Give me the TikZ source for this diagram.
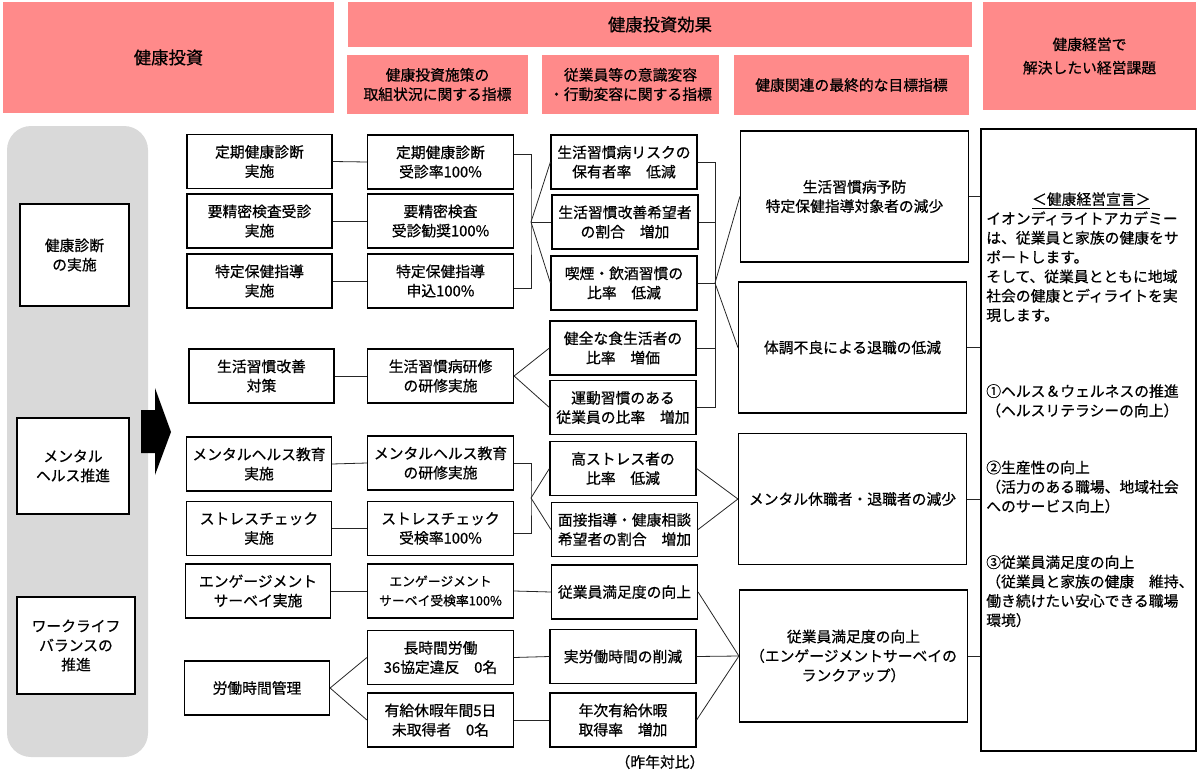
\documentclass[tikz,border=0pt]{standalone}
\usepackage{fontspec}
\setmainfont{Noto Sans CJK JP}[FakeBold=0.6]
\usepackage{xcolor}
\definecolor{hdrpink}{RGB}{255,138,138}
\definecolor{sidegray}{RGB}{217,217,217}
\newcommand{\bodyfont}{\fontsize{11.1pt}{14.5pt}\selectfont}
\newcommand{\bigfont}{\fontsize{13pt}{16pt}\selectfont}

\tikzset{
  hdr/.style={fill=hdrpink, align=center, inner sep=0pt, font=\bodyfont},
  cell/.style={draw, line width=0.9pt, fill=white, align=center, inner sep=0pt,
    minimum width=109.5pt, minimum height=40.5pt, font=\bodyfont},
  goal/.style={cell, minimum width=171pt, minimum height=98.25pt},
  link/.style={line width=0.6pt, black!85}
}

\begin{document}
\begin{tikzpicture}[x=0.75pt,y=-0.75pt]
   \useasboundingbox (0,0) rectangle (1199,774);

   % headers
   \node[hdr, minimum width=248.25pt, minimum height=83.25pt, font=\bigfont] (hInv) at (168.5,57.5) {健康投資};
   \node[hdr, minimum width=468pt, minimum height=33.75pt, font=\bigfont] (hEff) at (660,24.5) {健康投資効果};
   \node[hdr, minimum width=135.75pt, minimum height=44.25pt] (hPol) at (437.5,84.5) {健康投資施策の\\取組状況に関する指標};
   \node[hdr, minimum width=132.75pt, minimum height=44.25pt] (hAct) at (630.5,84.5) {従業員等の意識変容\\・行動変容に関する指標};
   \node[hdr, minimum width=176.25pt, minimum height=45pt] (hGoal) at (851.5,85) {健康関連の最終的な目標指標};
   \node[hdr, minimum width=159.75pt, minimum height=81pt] (hIssue) at (1089.5,56) {健康経営で\\[3pt]解決したい経営課題};

   % left column
   \fill[sidegray, rounded corners=18pt] (7,126) rectangle (148,757);
   \node[cell, minimum width=81.75pt, minimum height=76.5pt] (sHealth) at (74.5,255) {健康診断\\の実施};
   \node[cell, minimum width=84pt, minimum height=72pt] (sMental) at (73,466) {メンタル\\ヘルス推進};
   \node[cell, minimum width=88.5pt, minimum height=72.75pt] (sLife) at (76,645.5) {ワークライフ\\バランスの\\推進};
   \fill (141,410) -- (155,410) -- (155,388) -- (171,432) -- (155,475) -- (155,453) -- (141,453) -- cycle;

   % measures
   \node[cell, minimum width=108.75pt] (c1a) at (259.5,161.5) {定期健康診断\\実施};
   \node[cell, minimum width=108.75pt] (c1b) at (259.5,221) {要精密検査受診\\実施};
   \node[cell, minimum width=108.75pt] (c1c) at (259.5,281) {特定保健指導\\実施};
   \node[cell, minimum width=108.75pt] (c1d) at (261.5,376) {生活習慣改善\\対策};
   \node[cell, minimum width=108.75pt] (c1e) at (259,464) {メンタルヘルス教育\\実施};
   \node[cell, minimum width=108.75pt] (c1f) at (259,528.5) {ストレスチェック\\実施};
   \node[cell, minimum width=108.75pt] (c1g) at (258,591) {エンゲージメント\\サーベイ実施};
   \node[cell, minimum width=108.75pt] (c1h) at (257,688) {労働時間管理};

   % policy indicators
   \node[cell] (c2a) at (440.5,162) {定期健康診断\\受診率100\%};
   \node[cell] (c2b) at (440.5,221) {要精密検査\\受診勧奨100\%};
   \node[cell] (c2c) at (440.5,281) {特定保健指導\\申込100\%};
   \node[cell] (c2d) at (440.5,376) {生活習慣病研修\\の研修実施};
   \node[cell] (c2e) at (440.5,463) {メンタルヘルス教育\\の研修実施};
   \node[cell] (c2f) at (440.5,528.5) {ストレスチェック\\受検率100\%};
   \node[cell, font=\fontsize{9.6pt}{14.5pt}\selectfont] (c2g) at (440.5,591) {エンゲージメント\\サーベイ受検率100\%};
   \node[cell] (c2h) at (440.5,657.5) {長時間労働\\36協定違反　0名};
   \node[cell] (c2i) at (440.5,720) {有給休暇年間5日\\未取得者　0名};

   % behaviour indicators
   \node[cell] (c3a) at (624,162) {生活習慣病リスクの\\保有者率　低減};
   \node[cell] (c3b) at (625,222) {生活習慣改善希望者\\の割合　増加};
   \node[cell] (c3c) at (624,283) {喫煙・飲酒習慣の\\比率　低減};
   \node[cell] (c3d) at (623,348) {健全な食生活者の\\比率　増価};
   \node[cell] (c3e) at (623,407.5) {運動習慣のある\\従業員の比率　増加};
   \node[cell] (c3f) at (623,468.5) {高ストレス者の\\比率　低減};
   \node[cell] (c3g) at (624.5,529.5) {面接指導・健康相談\\希望者の割合　増加};
   \node[cell] (c3h) at (624.5,592) {従業員満足度の向上};
   \node[cell] (c3i) at (623,656.5) {実労働時間の削減};
   \node[cell] (c3j) at (623,720) {年次有給休暇\\取得率　増加};
   \node[font=\bodyfont] (note) at (660,762) {（昨年対比）};

   % final goals
   \node[goal] (t1) at (854.5,196.5) {生活習慣病予防\\特定保健指導対象者の減少};
   \node[goal] (t2) at (852.5,347.5) {体調不良による退職の低減};
   \node[goal] (t3) at (852.5,499) {メンタル休職者・退職者の減少};
   \node[goal, minimum height=99pt] (t4) at (853.5,656) {従業員満足度の向上\\（エンゲージメントサーベイの\\ランクアップ）};

   % management issues
   \node[draw, line width=0.9pt, minimum width=161.25pt, minimum height=466.5pt] (decl) at (1088.5,440) {};
   \node[anchor=north west, align=left, text width=157.5pt, inner sep=0pt, font=\bodyfont] (declText) at (986,192)
     {\makebox[157.5pt]{\underline{＜健康経営宣言＞}}\\
      イオンディライトアカデミー\\
      は、従業員と家族の健康をサ\\
      ポートします。\\
      そして、従業員とともに地域\\
      社会の健康とディライトを実\\
      現します。\\[42.5pt]
      ①ヘルス＆ウェルネスの推進\\
      （ヘルスリテラシーの向上）\\[28.3pt]
      ②生産性の向上\\
      （活力のある職場、地域社会\\
      へのサービス向上）\\[27.5pt]
      ③従業員満足度の向上\\
      （従業員と家族の健康　維持、\\
      働き続けたい安心できる職場\\
      環境）};

   % connectors
   \foreach \a/\b in {c1a/c2a, c1b/c2b, c1c/c2c, c1d/c2d, c1e/c2e, c1f/c2f, c1g/c2g, c2g/c3h, c2h/c3i, c2i/c3j}
     \draw[link] (\a.east) -- (\b.west);
   \coordinate (j1) at (531,222);
   \draw[link] ([yshift=6pt]c2a.east) -| (j1) |- ([yshift=-5.25pt]c2c.east);
   \foreach \t in {c3a,c3b,c3c} \draw[link] (j1) -- (\t.west);
   \foreach \t in {c3d,c3e} \draw[link] (c2d.east) -- (\t.west);
   \foreach \t in {c2h,c2i} \draw[link] (c1h.east) -- (\t.west);
   \coordinate (j3) at (531,498);
   \draw[link] (c2e.east) -| (j3) |- ([yshift=-4pt]c2f.east);
   \foreach \t in {c3f,c3g} \draw[link] (j3) -- (\t.west);
   \foreach \s in {c3f,c3g} \draw[link] (\s.east) -- (t3.west);
   \coordinate (j2) at (715,283);
   \draw[link] (c3a.east) -| (j2 |- c3e.east) -- (c3e.east);
   \foreach \s in {c3b,c3c,c3d} \draw[link] (\s.east) -- (\s.east -| j2);
   \foreach \t in {t1,t2} \draw[link] (j2) -- (\t.west);
   \foreach \s in {c3h,c3i,c3j} \draw[link] (\s.east) -- (t4.west);
   \foreach \t in {t1,t2,t3,t4} \draw[link] (\t.east) -- (\t.east -| decl.west);
\end{tikzpicture}
\end{document}
